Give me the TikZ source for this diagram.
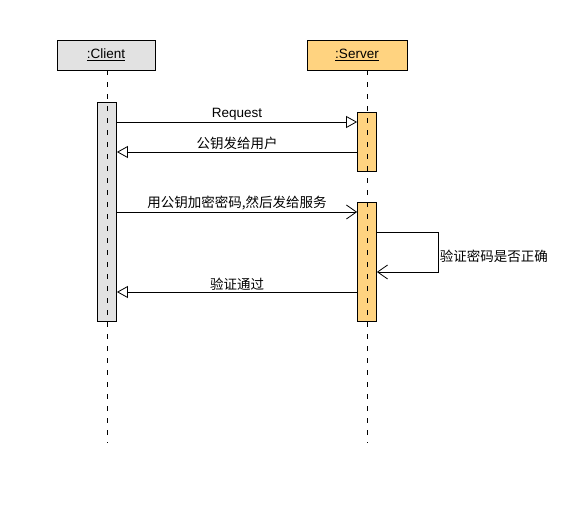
\documentclass[tikz,border=0pt]{standalone}
\usepackage{fontspec}
\setmainfont{Liberation Sans}
\newfontfamily\cjk{Noto Sans CJK SC}
\usetikzlibrary{arrows.meta}

\definecolor{clientgray}{RGB}{226,226,226}
\definecolor{serverorange}{RGB}{255,211,128}

\tikzset{
  head/.style={draw, line width=0.8pt, minimum height=30pt, inner sep=0pt},
  act/.style={draw, line width=0.8pt, minimum width=19pt, inner sep=0pt},
  lifeline/.style={line width=0.8pt, dash pattern=on 5pt off 7pt},
  call/.style={line width=0.8pt, -{Triangle[open, length=11pt, width=12pt, fill=white]}},
  async/.style={line width=0.8pt, -{Straight Barb[length=10pt, width=14pt]}},
  lbl/.style={inner sep=1.5pt, font=\fontsize{13.5}{15}\selectfont}
}

\begin{document}
\begin{tikzpicture}[x=1pt, y=-1pt]
  \useasboundingbox (0,0) rectangle (571,518);

  % The heads of the two objects
  \node[head, fill=clientgray, minimum width=98pt] (client) at (106,55) {\fontsize{13.5}{15}\selectfont\underline{:Client}};
  \node[head, fill=serverorange, minimum width=100pt] (server) at (357,55) {\fontsize{13.5}{15}\selectfont\underline{:Server}};

  % The activation bars
  \node[act, fill=clientgray, minimum height=219pt] (clientAct) at (107,211.5) {};
  \node[act, fill=serverorange, minimum height=59pt] (srvActA) at (367,141.5) {};
  \node[act, fill=serverorange, minimum height=119pt] (srvActB) at (367,261.5) {};

  % The lifelines
  \coordinate (clientEnd) at (107,443);
  \coordinate (serverEnd) at (367,443);
  \draw[lifeline] (client.south -| clientEnd) -- (clientEnd);
  \draw[lifeline] (server.south -| serverEnd) -- (serverEnd);

  % The request and the public key
  \coordinate (m1) at (0,122);
  \coordinate (m2) at (0,152);
  \draw[call] (clientAct.east |- m1) -- node[lbl, above] {Request} (srvActA.west |- m1);
  \draw[call] (srvActA.west |- m2) -- node[lbl, above] {\cjk 公钥发给用户} (clientAct.east |- m2);

  % The encrypted password
  \coordinate (m3) at (0,212);
  \draw[async] (clientAct.east |- m3) -- node[lbl, above] {\cjk 用公钥加密密码,然后发给服务} (srvActB.west |- m3);

  % The self check on the server
  \coordinate (m4) at (0,232);
  \coordinate (m5) at (0,272);
  \coordinate (loopR) at (438,0);
  \draw[async] (srvActB.east |- m4) -- (loopR |- m4) -- node[lbl, right, pos=0.6] {\cjk 验证密码是否正确} (loopR |- m5) -- (srvActB.east |- m5);

  % The answer
  \coordinate (m6) at (0,292);
  \draw[call] (srvActB.west |- m6) -- node[lbl, above] {\cjk 验证通过} (clientAct.east |- m6);

\end{tikzpicture}
\end{document}
